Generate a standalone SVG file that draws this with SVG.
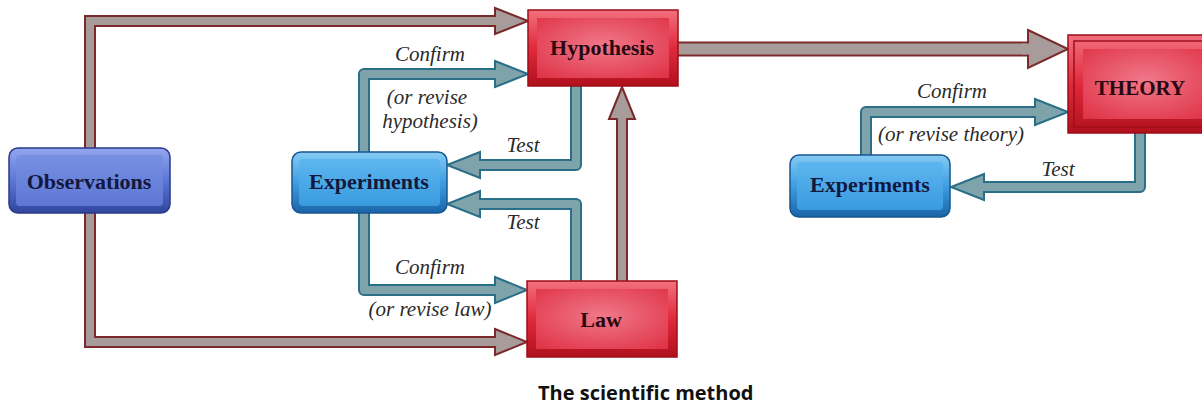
<svg xmlns="http://www.w3.org/2000/svg" width="1202" height="406" viewBox="0 0 1202 406">
<defs>
<linearGradient id="gObsOut" x1="0" y1="0" x2="0" y2="1"><stop offset="0" stop-color="#93a6ee"/><stop offset="0.5" stop-color="#5c76d6"/><stop offset="1" stop-color="#31469c"/></linearGradient>
<linearGradient id="gObsIn" x1="0" y1="0" x2="0" y2="1"><stop offset="0" stop-color="#7890e2"/><stop offset="1" stop-color="#5d77d4"/></linearGradient>
<linearGradient id="gExpOut" x1="0" y1="0" x2="0" y2="1"><stop offset="0" stop-color="#86cbf4"/><stop offset="0.5" stop-color="#3d9ee2"/><stop offset="1" stop-color="#1b64a8"/></linearGradient>
<linearGradient id="gExpIn" x1="0" y1="0" x2="0" y2="1"><stop offset="0" stop-color="#5db6ee"/><stop offset="1" stop-color="#3a9be0"/></linearGradient>
<linearGradient id="gRedOut" x1="0" y1="0" x2="0" y2="1"><stop offset="0" stop-color="#f2707e"/><stop offset="0.5" stop-color="#e02a3c"/><stop offset="1" stop-color="#b0101c"/></linearGradient>
<radialGradient id="gRedIn" cx="0.5" cy="0.45" r="0.7"><stop offset="0" stop-color="#f0788a"/><stop offset="1" stop-color="#e03448"/></radialGradient>
</defs>
<style>
.ro{fill:none;stroke:#7a2a2c;stroke-width:12;stroke-linejoin:miter}
.ri{fill:none;stroke:#a89c9a;stroke-width:8;stroke-linejoin:miter}
.rbo{fill:none;stroke:#7a2a2c;stroke-width:15}
.rbi{fill:none;stroke:#a89c9a;stroke-width:11}
.rh{fill:#a89c9a;stroke:#7a2a2c;stroke-width:2;stroke-linejoin:miter}
.bo{fill:none;stroke:#2a6e88;stroke-width:12;stroke-linejoin:round}
.bi{fill:none;stroke:#7ea3ab;stroke-width:8;stroke-linejoin:round}
.bh{fill:#7ea3ab;stroke:#2a6e88;stroke-width:2;stroke-linejoin:miter}
.obs-o{fill:url(#gObsOut);stroke:#2a3a88;stroke-width:1.5}
.obs-i{fill:url(#gObsIn)}
.exp-o{fill:url(#gExpOut);stroke:#17578f;stroke-width:1.5}
.exp-i{fill:url(#gExpIn)}
.red-o{fill:url(#gRedOut);stroke:#9c0e18;stroke-width:1.5}
.red-i{fill:url(#gRedIn)}
.nl{font-family:"Liberation Serif",serif;font-weight:bold;font-size:22px;text-anchor:middle}
.nb{fill:#12183e}
.nr{fill:#2a0810}
.lb{font-family:"Liberation Serif",serif;font-style:italic;font-size:21px;fill:#2a2a2a;text-anchor:middle}
.cap{font-family:"Open Sans",sans-serif;font-weight:bold;font-size:20px;fill:#111}
</style>
<g id="connectors">
<!-- Observations -> Hypothesis -->
<path class="ro" d="M90,148 V21 H500"/><path class="ri" d="M90,148 V21 H500"/>
<polygon class="rh" points="495,8 528,21 495,34"/><path class="ri" d="M490,21 H501"/>
<!-- Observations -> Law -->
<path class="ro" d="M90,213 V342 H500"/><path class="ri" d="M90,213 V342 H500"/>
<polygon class="rh" points="495,329 527,342 495,355"/><path class="ri" d="M490,342 H501"/>
<!-- Law -> Hypothesis -->
<path class="ro" d="M622,281 V114"/><path class="ri" d="M622,281 V114"/>
<polygon class="rh" points="609,119 622,87 635,119"/><path class="ri" d="M622,124 V115"/>
<!-- Hypothesis -> THEORY -->
<path class="rbo" d="M678,49 H1034"/><path class="rbi" d="M678,49 H1034"/>
<polygon class="rh" points="1028,30 1068,49 1028,68"/><path class="rbi" d="M1022,49 H1035"/>
<!-- Experiments -> Hypothesis (Confirm) -->
<path class="bo" d="M364,152 V74 H500"/><path class="bi" d="M364,152 V74 H500"/>
<polygon class="bh" points="495,61 528,74 495,87"/><path class="bi" d="M490,74 H501"/>
<!-- Hypothesis -> Experiments (Test) -->
<path class="bo" d="M576,86 V165 H475"/><path class="bi" d="M576,86 V165 H475"/>
<polygon class="bh" points="480,152 447,165 480,178"/><path class="bi" d="M486,165 H474"/>
<!-- Law -> Experiments (Test) -->
<path class="bo" d="M576,281 V204 H475"/><path class="bi" d="M576,281 V204 H475"/>
<polygon class="bh" points="480,191 447,204 480,217"/><path class="bi" d="M486,204 H474"/>
<!-- Experiments -> Law (Confirm) -->
<path class="bo" d="M364,213 V290 H500"/><path class="bi" d="M364,213 V290 H500"/>
<polygon class="bh" points="495,277 527,290 495,303"/><path class="bi" d="M490,290 H501"/>
<!-- Experiments2 -> THEORY (Confirm) -->
<path class="bo" d="M866,155 V112 H1040"/><path class="bi" d="M866,155 V112 H1040"/>
<polygon class="bh" points="1035,99 1068,112 1035,125"/><path class="bi" d="M1030,112 H1041"/>
<!-- THEORY -> Experiments2 (Test) -->
<path class="bo" d="M1140,133 V187 H979"/><path class="bi" d="M1140,133 V187 H979"/>
<polygon class="bh" points="984,174 951,187 984,200"/><path class="bi" d="M990,187 H978"/>
</g>
<g id="labels">
<text class="lb" x="430" y="61">Confirm</text>
<text class="lb" x="427" y="104">(or revise</text>
<text class="lb" x="430" y="128">hypothesis)</text>
<text class="lb" x="523" y="152">Test</text>
<text class="lb" x="523" y="229">Test</text>
<text class="lb" x="430" y="274">Confirm</text>
<text class="lb" x="430" y="316">(or revise law)</text>
<text class="lb" x="952" y="98">Confirm</text>
<text class="lb" x="951" y="141">(or revise theory)</text>
<text class="lb" x="1058" y="176">Test</text>
</g>
<g id="observations">
<rect class="obs-o" x="9" y="148" width="161" height="65" rx="9"/>
<rect class="obs-i" x="16" y="155" width="147" height="51" rx="4"/>
<text class="nl nb" x="89" y="189">Observations</text>
</g>
<g id="experiments1">
<rect class="exp-o" x="292" y="152" width="155" height="61" rx="9"/>
<rect class="exp-i" x="299" y="159" width="141" height="47" rx="4"/>
<text class="nl nb" x="369" y="189">Experiments</text>
</g>
<g id="hypothesis">
<rect class="red-o" x="528" y="10" width="150" height="76"/>
<rect class="red-i" x="537" y="18" width="132" height="60"/>
<text class="nl nr" x="602" y="55">Hypothesis</text>
</g>
<g id="law">
<rect class="red-o" x="527" y="281" width="150" height="76"/>
<rect class="red-i" x="536" y="289" width="132" height="60"/>
<text class="nl nr" x="601" y="327">Law</text>
</g>
<g id="theory">
<rect class="red-o" x="1068" y="35" width="140" height="98"/>
<rect x="1074" y="41" width="134" height="86" fill="none" stroke="#a00e1a" stroke-width="1.5"/>
<rect class="red-i" x="1083" y="49" width="125" height="70"/>
<text class="nl nr" x="1140" y="95" style="font-size:21px">THEORY</text>
</g>
<g id="experiments2">
<rect class="exp-o" x="790" y="155" width="160" height="62" rx="9"/>
<rect class="exp-i" x="797" y="162" width="146" height="48" rx="4"/>
<text class="nl nb" x="870" y="192">Experiments</text>
</g>
<text class="cap" x="538" y="400">The scientific method</text>
</svg>
